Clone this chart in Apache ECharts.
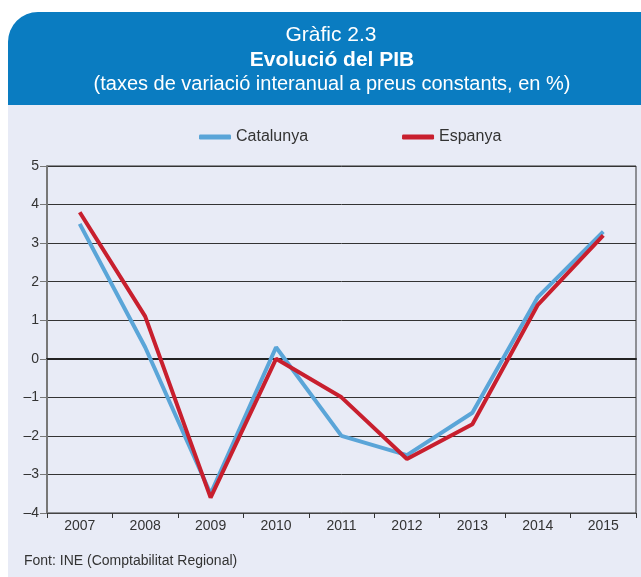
<!DOCTYPE html>
<html>
<head>
<meta charset="utf-8">
<script src="https://cdn.jsdelivr.net/npm/echarts@6/dist/echarts.min.js"></script>
<style>
  html, body { margin: 0; padding: 0; background: #ffffff; }
  #chart { width: 641px; height: 577px; }
</style>
</head>
<body>
<div id="chart"></div>
<script>
const years = ['2007', '2008', '2009', '2010', '2011', '2012', '2013', '2014', '2015'];
const catalunya = [3.5, 0.3, -3.5, 0.3, -2.0, -2.5, -1.4, 1.6, 3.3];
const espanya = [3.8, 1.1, -3.6, 0.0, -1.0, -2.6, -1.7, 1.4, 3.2];
const yTicks = [-4, -3, -2, -1, 0, 1, 2, 3, 4, 5];

const FONT = '"Liberation Sans", Arial, sans-serif';
const chart = echarts.init(document.getElementById('chart'));

// centred text line helper for the header / footer
function label(text, x, y, font, align) {
  return {
    type: 'text', z: 10,
    style: { text, x, y, textAlign: align || 'center', textVerticalAlign: 'middle', fill: '#ffffff', font },
  };
}

const footer = label('Font: INE (Comptabilitat Regional)', 24, 561, '14px ' + FONT, 'left');
footer.style.fill = '#333333';

const option = {
  backgroundColor: '#ffffff',
  animation: false,
  graphic: [
    // header band with rounded top-left corner
    {
      type: 'rect', z: -10,
      shape: { x: 8, y: 12, width: 640, height: 93, r: [30, 0, 0, 0] },
      style: { fill: '#0a7cc1' },
    },
    // light body
    {
      type: 'rect', z: -10,
      shape: { x: 8, y: 105, width: 640, height: 480 },
      style: { fill: '#e8ebf6' },
    },
    label('Gràfic 2.3', 331, 35, '21px ' + FONT),
    label('Evolució del PIB', 332, 60, 'bold 21px ' + FONT),
    label('(taxes de variació interanual a preus constants, en %)', 332, 84, '20px ' + FONT),
    footer,
  ],
  legend: {
    left: 194,
    top: 124,
    itemGap: 94,
    itemWidth: 32,
    itemHeight: 5,
    icon: 'roundRect',
    textStyle: { fontFamily: FONT, fontSize: 16, color: '#333333' },
    data: ['Catalunya', 'Espanya'],
  },
  grid: {
    left: 47, right: 5, top: 166, bottom: 64,
    show: true, borderColor: '#333333', borderWidth: 1, backgroundColor: 'transparent',
  },
  xAxis: [
    {
      type: 'category',
      data: years,
      boundaryGap: true,
      axisLine: { onZero: false, lineStyle: { color: '#444444', width: 1 } },
      axisTick: { show: true, length: 5, lineStyle: { color: '#333333' } },
      axisLabel: { fontFamily: FONT, fontSize: 14, color: '#333333', margin: 6 },
    },
    {
      // thicker line at zero
      type: 'category',
      data: years,
      position: 'bottom',
      axisLine: { onZero: true, lineStyle: { color: '#222222', width: 2 } },
      axisTick: { show: false },
      axisLabel: { show: false },
      splitLine: { show: false },
    },
  ],
  yAxis: {
    type: 'value',
    min: yTicks[0],
    max: yTicks[yTicks.length - 1],
    interval: 1,
    axisLine: { show: true, lineStyle: { color: '#777777', width: 2 } },
    axisTick: { show: true, length: 7, lineStyle: { color: '#777777' } },
    axisLabel: {
      fontFamily: FONT, fontSize: 14, color: '#333333', margin: 8,
      formatter: (v) => (v < 0 ? '\u2013' + Math.abs(v) : String(v)),
    },
    splitLine: { show: true, lineStyle: { color: '#333333', width: 1 } },
  },
  series: [
    {
      name: 'Catalunya', type: 'line', data: catalunya, z: 3,
      symbol: 'none',
      lineStyle: { color: '#5aa5d8', width: 4 },
      itemStyle: { color: '#5aa5d8' },
    },
    {
      name: 'Espanya', type: 'line', data: espanya, z: 4,
      symbol: 'none',
      lineStyle: { color: '#c81f2e', width: 4 },
      itemStyle: { color: '#c81f2e' },
    },
  ],
};

chart.setOption(option);
</script>
</body>
</html>
